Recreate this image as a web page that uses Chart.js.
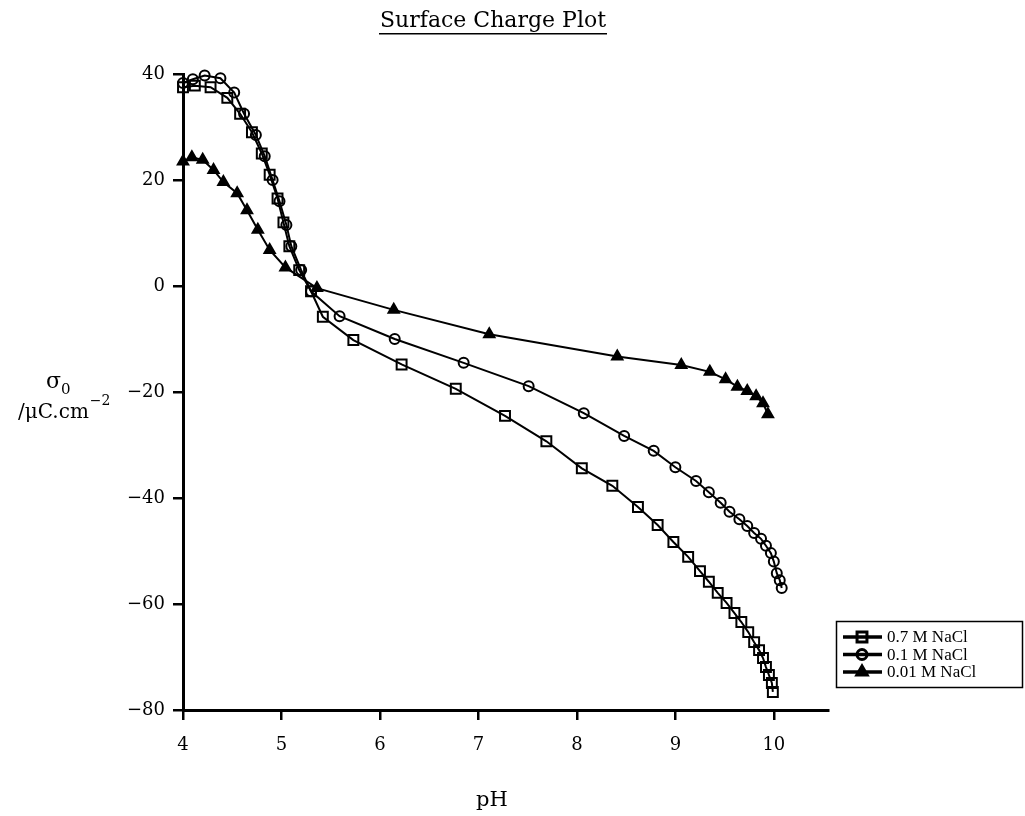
<!DOCTYPE html>
<html>
<head>
<meta charset="utf-8">
<script src="https://cdn.jsdelivr.net/npm/chart.js@4.4.0/dist/chart.umd.min.js"></script>
<style>
  html, body { margin: 0; padding: 0; background: #fff; }
</style>
</head>
<body>
<canvas id="chargeChart" width="1025" height="816"></canvas>
<script>
// surface charge (uC/cm2) against pH for three NaCl strengths
const ph07 = [4.00, 4.12, 4.28, 4.45, 4.58, 4.70, 4.80, 4.88, 4.96, 5.02,
  5.08, 5.18, 5.30, 5.42, 5.73, 6.22, 6.77, 7.27, 7.69, 8.05,
  8.36, 8.62, 8.82, 8.98, 9.13, 9.25, 9.34, 9.43, 9.52, 9.60,
  9.67, 9.74, 9.80, 9.85, 9.89, 9.92, 9.95, 9.98, 9.99];
const sigma07 = [37.5, 37.8, 37.5, 35.5, 32.5, 29, 25, 21, 16.5, 12,
  7.5, 3, -1, -5.8, -10.2, -14.8, -19.4, -24.5, -29.3, -34.4,
  -37.7, -41.7, -45.1, -48.3, -51.1, -53.8, -55.8, -57.9, -59.8, -61.7,
  -63.4, -65.3, -67.2, -68.7, -70.2, -71.9, -73.4, -74.9, -76.6];

const ph01 = [4.00, 4.10, 4.22, 4.38, 4.52, 4.62, 4.74, 4.83, 4.91, 4.98,
  5.05, 5.10, 5.20, 5.30, 5.59, 6.15, 6.85, 7.51, 8.07, 8.48,
  8.78, 9.00, 9.21, 9.34, 9.46, 9.55, 9.65, 9.73, 9.80, 9.87,
  9.92, 9.97, 10.00, 10.03, 10.06, 10.08];
const sigma01 = [38.3, 39.0, 39.7, 39.2, 36.5, 32.5, 28.5, 24.5, 20, 16,
  11.5, 7.5, 3, -1, -5.7, -10, -14.5, -18.9, -24, -28.3,
  -31.1, -34.2, -36.8, -38.9, -40.9, -42.6, -44, -45.3, -46.6, -47.7,
  -49, -50.4, -52, -54.2, -55.5, -57];

const ph001 = [4.00, 4.09, 4.20, 4.31, 4.41, 4.55, 4.65, 4.76, 4.88, 5.04,
  5.36, 6.14, 7.11, 8.41, 9.06, 9.35, 9.51, 9.63, 9.73, 9.82,
  9.89, 9.94];
const sigma001 = [23.5, 24.3, 23.8, 21.9, 19.6, 17.5, 14.3, 10.6, 6.8, 3.5,
  -0.4, -4.5, -9.1, -13.3, -14.9, -16.2, -17.6, -19, -19.8, -20.8,
  -22.1, -24.2];

const seriesNames = ['0.7 M NaCl', '0.1 M NaCl', '0.01 M NaCl'];
const xTicks = [4, 5, 6, 7, 8, 9, 10];
const yTicks = [-80, -60, -40, -20, 0, 20, 40];
const yTickLabels = ['\u221280', '\u221260', '\u221240', '\u221220', '0', '20', '40'];

const toPoints = (xs, ys) => xs.map((x, i) => ({ x: x, y: ys[i] }));

const serif = '"DejaVu Serif", serif';
const textSerif = '"Liberation Serif", serif';

// title, axis captions and the boxed legend are drawn by hand
const captions = {
  id: 'captions',
  afterDraw(chart) {
    const ctx = chart.ctx;
    ctx.save();
    ctx.fillStyle = '#000';
    ctx.strokeStyle = '#000';

    // underlined title
    const title = 'Surface Charge Plot';
    ctx.font = '22px ' + serif;
    ctx.textAlign = 'center';
    ctx.textBaseline = 'alphabetic';
    ctx.fillText(title, 493, 27);
    const tw = ctx.measureText(title).width;
    ctx.fillRect(493 - tw / 2 - 1, 33, tw + 2, 1.5);

    // x caption
    ctx.font = '21px ' + serif;
    ctx.fillText('pH', 492, 806);

    // y caption: sigma_0 / uC.cm^-2
    ctx.textAlign = 'left';
    ctx.font = '22px ' + serif;
    ctx.fillText('\u03c3', 46, 388);
    const sw = ctx.measureText('\u03c3').width;
    ctx.font = '15px ' + serif;
    ctx.fillText('0', 46 + sw, 394);
    ctx.font = '20px ' + serif;
    ctx.fillText('/\u03bcC.cm', 18, 418);
    const uw = ctx.measureText('/\u03bcC.cm').width;
    ctx.font = '14px ' + serif;
    ctx.fillText('\u22122', 18 + uw + 1, 405);

    // legend box
    const lx = 836, ly = 621, lw = 186, lh = 66;
    ctx.lineWidth = 1.5;
    ctx.strokeRect(lx + 0.5, ly + 0.5, lw, lh);
    ctx.font = '17px ' + textSerif;
    ctx.textBaseline = 'middle';
    chart.data.datasets.forEach((ds, i) => {
      const cy = ly + 16 + i * 17.5;
      ctx.lineWidth = 3.5;
      ctx.beginPath();
      ctx.moveTo(lx + 7, cy);
      ctx.lineTo(lx + 46, cy);
      ctx.stroke();
      ctx.fillStyle = ds.pointBackgroundColor;
      ctx.lineWidth = 3;
      Chart.helpers.drawPoint(ctx, {
        pointStyle: ds.pointStyle,
        radius: ds.pointRadius,
        borderWidth: 3,
        rotation: 0
      }, lx + 26, cy);
      ctx.fillStyle = '#000';
      ctx.fillText(ds.label, lx + 51, cy + 1);
    });
    ctx.restore();
  }
};

const lineStyle = {
  borderColor: '#000',
  borderWidth: 2,
  pointBorderColor: '#000',
  pointBorderWidth: 2,
  tension: 0,
  fill: false,
  clip: false
};

new Chart(document.getElementById('chargeChart'), {
  type: 'line',
  data: {
    datasets: [
      Object.assign({
        label: seriesNames[0],
        data: toPoints(ph07, sigma07),
        pointStyle: 'rect',
        pointRadius: 7,
        pointBackgroundColor: 'rgba(255,255,255,0)'
      }, lineStyle),
      Object.assign({
        label: seriesNames[1],
        data: toPoints(ph01, sigma01),
        pointStyle: 'circle',
        pointRadius: 5,
        pointBackgroundColor: 'rgba(255,255,255,0)'
      }, lineStyle),
      Object.assign({
        label: seriesNames[2],
        data: toPoints(ph001, sigma001),
        pointStyle: 'triangle',
        pointRadius: 6,
        pointBackgroundColor: '#000'
      }, lineStyle)
    ]
  },
  options: {
    responsive: false,
    animation: false,
    devicePixelRatio: 1,
    layout: { padding: { left: 0, top: 74, right: 197, bottom: 0 } },
    plugins: {
      legend: { display: false },
      title: { display: false },
      tooltip: { enabled: false }
    },
    scales: {
      x: {
        type: 'linear',
        min: 4,
        max: 10.55,
        afterBuildTicks: (scale) => { scale.ticks = xTicks.map(v => ({ value: v })); },
        afterFit: (scale) => { scale.height = 106; },
        border: { color: '#000', width: 3 },
        grid: { drawOnChartArea: false, color: '#000', lineWidth: 2.5, tickLength: 10 },
        ticks: { color: '#000', font: { family: serif, size: 18 }, padding: 15, maxRotation: 0 }
      },
      y: {
        type: 'linear',
        min: -80,
        max: 40,
        afterBuildTicks: (scale) => { scale.ticks = yTicks.map(v => ({ value: v })); },
        afterFit: (scale) => { scale.width = 183; },
        border: { color: '#000', width: 3 },
        grid: { drawOnChartArea: false, color: '#000', lineWidth: 2.5, tickLength: 10 },
        ticks: {
          color: '#000',
          font: { family: serif, size: 18 },
          padding: 8,
          callback: (v) => yTickLabels[yTicks.indexOf(v)]
        }
      }
    }
  },
  plugins: [captions]
});
</script>
</body>
</html>
